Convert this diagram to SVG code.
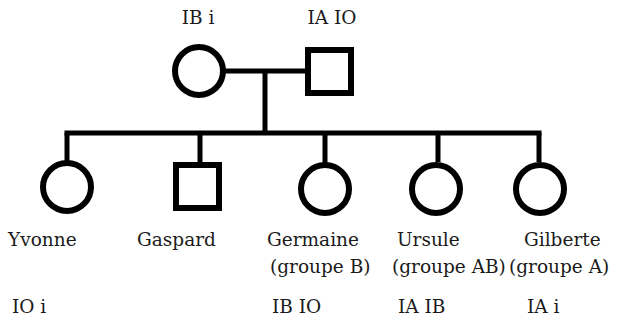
<svg xmlns="http://www.w3.org/2000/svg" width="619" height="320" viewBox="0 0 619 320">
  <style>
    .shape { fill: #fff; stroke: #000; stroke-width: 6; }
    .line { fill: none; stroke: #000; stroke-width: 5; }
    text { font-family: "DejaVu Serif", "Liberation Serif", serif; font-size: 18.5px; fill: #1a1a1a; }
  </style>
  <rect width="619" height="320" fill="#fff"/>
  <g id="connectors">
    <line class="line" x1="222" y1="71" x2="308" y2="71"/>
    <line class="line" x1="265" y1="71" x2="265" y2="133"/>
    <line class="line" x1="64.5" y1="133" x2="541.5" y2="133"/>
    <line class="line" x1="67" y1="133" x2="67" y2="162"/>
    <line class="line" x1="200" y1="133" x2="200" y2="164"/>
    <line class="line" x1="325" y1="133" x2="325" y2="164"/>
    <line class="line" x1="438" y1="133" x2="438" y2="162"/>
    <line class="line" x1="539" y1="133" x2="539" y2="162"/>
  </g>
  <g id="mother">
    <circle class="shape" cx="199" cy="71" r="24"/>
    <text x="198" y="24" text-anchor="middle">IB i</text>
  </g>
  <g id="father">
    <rect class="shape" x="308" y="50" width="43" height="43"/>
    <text x="332" y="24" text-anchor="middle">IA IO</text>
  </g>
  <g id="yvonne">
    <circle class="shape" cx="67" cy="187" r="24"/>
    <text x="8" y="246">Yvonne</text>
    <text x="12" y="313">IO i</text>
  </g>
  <g id="gaspard">
    <rect class="shape" x="176" y="165" width="43" height="43"/>
    <text x="137" y="246">Gaspard</text>
  </g>
  <g id="germaine">
    <circle class="shape" cx="325" cy="189" r="24"/>
    <text x="267" y="246">Germaine</text>
    <text x="270" y="273">(groupe B)</text>
    <text x="272" y="313">IB IO</text>
  </g>
  <g id="ursule">
    <circle class="shape" cx="436" cy="189" r="24"/>
    <text x="397" y="246">Ursule</text>
    <text x="392" y="273">(groupe AB)</text>
    <text x="398" y="313">IA IB</text>
  </g>
  <g id="gilberte">
    <circle class="shape" cx="540" cy="189" r="24"/>
    <text x="524" y="246">Gilberte</text>
    <text x="509" y="273">(groupe A)</text>
    <text x="527" y="313">IA i</text>
  </g>
</svg>
